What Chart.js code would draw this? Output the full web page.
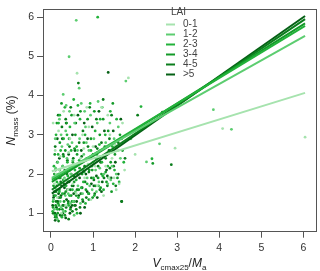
<!DOCTYPE html>
<html>
<head>
<meta charset="utf-8">
<script src="https://cdn.jsdelivr.net/npm/chart.js@4/dist/chart.umd.min.js"></script>
<style>
  html, body { margin: 0; padding: 0; background: #fff; }
  #wrap { width: 320px; height: 271px; }
</style>
</head>
<body>
<div id="wrap"><canvas id="lai-chart" width="320" height="271"></canvas></div>
<script>
const laiClasses = ["0-1", "1-2", "2-3", "3-4", "4-5", ">5"];
const laiColors = ["#a6e3ae", "#5ccd70", "#22b23a", "#139a28", "#0b7d1c", "#056015"];

// regression lines: N_mass at Vcmax25/Ma = 0 and at the right end
const lineX = [0.02, 6.04];
const lineStart = [2.07, 1.9, 1.86, 1.8, 1.6, 1.5];
const lineEnd = [4.07, 5.52, 5.78, 5.84, 5.95, 6.03];

// observed points per LAI class, [Vcmax25/Ma, Nmass]
const pts01 = [[0.05,3.3],[0.1,2.6],[0.15,1.4],[0.2,2.1],[0.3,3.6],[0.35,1.2],[0.45,2.9],[0.55,3.5],[0.62,4.57],[0.7,2.4],[0.8,1.9],[0.9,3.2],[1.0,2.7],[1.1,1.7],[1.2,3.7],[1.3,2.2],[1.4,3.0],[1.5,1.9],[1.6,2.6],[1.7,3.3],[1.84,4.45],[2.0,2.5],[2.95,2.66],[4.08,3.16],[6.04,2.94],[0.25,1.0],[0.4,1.6],[0.12,2.0],[0.6,1.5],[0.75,3.0],[1.05,2.2],[1.45,2.4],[1.55,1.6],[1.25,1.45],[0.85,3.7],[0.5,2.2],[0.18,3.1],[0.95,1.35],[1.35,3.5],[1.75,2.1],
  [0.08,1.75],[0.22,2.45],[0.33,1.85],[0.42,2.55],[0.52,1.75],[0.66,2.05],[0.78,2.65],[0.88,2.25],[1.15,2.45],[1.38,1.9],[1.62,1.75],[1.52,2.75]];
const pts12 = [[0.08,1.1],[0.1,2.9],[0.13,1.6],[0.16,2.3],[0.2,3.4],[0.22,1.3],[0.26,2.7],[0.29,4.03],[0.32,1.9],[0.35,3.1],[0.38,2.4],[0.41,1.5],[0.44,3.6],[0.47,2.0],[0.5,2.8],[0.53,1.3],[0.56,3.3],[0.6,5.92],[0.6,2.2],[0.64,1.7],[0.67,4.19],[0.68,2.9],[0.72,3.8],[0.75,1.5],[0.78,2.5],[0.82,3.2],[0.86,1.9],[0.9,2.6],[0.94,3.5],[0.98,1.6],[1.02,2.9],[1.06,2.1],[1.1,3.3],[1.14,1.8],[1.18,2.6],[1.22,3.7],[1.26,2.0],[1.3,2.8],[1.35,1.75],[1.4,3.3],[1.45,2.2],[1.5,2.9],[1.55,2.0],[1.6,3.2],[1.65,2.4],[1.78,4.37],[1.9,2.9],[2.27,2.31],[2.58,2.77],[3.86,3.64],[4.29,3.14],[0.43,4.99],[0.15,0.85],[0.3,1.05],[0.55,0.95],
  [0.06,1.35],[0.11,2.15],[0.18,1.75],[0.24,1.15],[0.28,2.2],[0.34,1.45],[0.4,2.75],[0.46,1.25],[0.52,2.35],[0.58,1.55],[0.63,2.6],[0.7,1.25],[0.76,2.1],[0.84,2.8],[0.92,1.7],[1.0,2.3],[1.08,1.55],[1.16,2.15],[1.28,2.45],[1.42,1.85],[0.36,3.75],[0.8,3.6],[1.12,3.85],[0.24,3.0]];
const pts23 = [[0.05,1.3],[0.07,2.2],[0.1,0.95],[0.12,3.0],[0.14,1.8],[0.17,2.5],[0.19,1.2],[0.21,3.5],[0.24,2.0],[0.27,1.5],[0.3,2.9],[0.33,3.7],[0.36,1.7],[0.39,2.3],[0.42,1.2],[0.45,3.2],[0.48,2.6],[0.51,1.6],[0.54,3.9],[0.57,2.1],[0.61,2.7],[0.65,1.4],[0.69,3.4],[0.73,2.3],[0.77,1.8],[0.81,3.0],[0.85,2.4],[0.89,1.5],[0.93,3.8],[0.97,2.2],[1.01,1.9],[1.05,3.1],[1.09,2.5],[1.11,6.0],[1.13,1.7],[1.17,3.4],[1.21,2.3],[1.25,1.6],[1.29,3.0],[1.33,2.5],[1.37,1.9],[1.41,3.6],[1.46,2.7],[1.51,2.1],[1.56,3.4],[1.62,1.8],[1.68,2.9],[1.73,2.3],[2.14,3.72],[2.4,2.39],[0.11,1.45],[0.26,0.9],[0.38,3.0],[0.62,1.0],[0.82,1.25],
  [0.04,1.05],[0.09,1.65],[0.15,1.1],[0.2,1.55],[0.23,2.6],[0.29,1.85],[0.34,1.05],[0.4,1.95],[0.44,1.45],[0.5,2.15],[0.55,1.3],[0.6,1.85],[0.67,2.35],[0.72,1.65],[0.79,2.05],[0.86,1.75],[0.95,2.6],[1.03,1.45],[1.15,2.75],[1.23,1.95],[1.35,2.2],[1.48,1.75],[0.18,3.3],[0.64,3.75]];
const pts34 = [[0.06,1.7],[0.09,2.5],[0.11,1.2],[0.14,3.3],[0.16,1.0],[0.18,2.0],[0.21,2.8],[0.23,1.4],[0.25,3.8],[0.28,2.2],[0.31,1.3],[0.34,2.6],[0.37,3.3],[0.4,1.8],[0.43,2.9],[0.46,1.1],[0.49,3.5],[0.52,2.3],[0.55,1.8],[0.58,3.0],[0.62,2.5],[0.66,1.6],[0.7,3.6],[0.74,2.0],[0.78,2.8],[0.83,1.6],[0.87,3.4],[0.91,2.1],[0.95,2.9],[0.99,1.4],[1.03,3.6],[1.07,2.4],[1.12,1.9],[1.16,3.0],[1.2,2.0],[1.24,3.4],[1.28,2.7],[1.32,1.8],[1.36,3.1],[1.42,2.3],[1.47,3.8],[1.52,2.5],[1.58,1.9],[1.64,3.0],[1.7,2.6],[2.42,2.27],[0.13,0.9],[0.2,1.6],[0.33,0.95],[0.48,1.45],
  [0.05,1.15],[0.08,2.0],[0.12,1.55],[0.17,1.25],[0.22,1.9],[0.27,1.1],[0.3,2.45],[0.35,1.55],[0.41,1.25],[0.45,2.1],[0.5,1.3],[0.56,2.65],[0.6,1.45],[0.68,2.15],[0.75,1.35],[0.82,2.35],[0.9,1.35],[0.98,2.1],[1.06,1.7],[1.18,1.65],[1.3,2.05],[1.44,1.55]];
const pts45 = [[0.05,1.0],[0.08,1.9],[0.1,2.7],[0.12,1.3],[0.15,2.3],[0.17,3.5],[0.2,1.1],[0.23,1.8],[0.26,3.2],[0.29,2.5],[0.32,1.5],[0.35,3.4],[0.38,2.0],[0.41,1.3],[0.44,2.7],[0.47,3.7],[0.5,1.7],[0.53,2.4],[0.56,1.2],[0.59,3.3],[0.63,2.0],[0.65,4.32],[0.67,2.8],[0.71,1.5],[0.76,3.1],[0.8,2.2],[0.84,1.4],[0.88,2.7],[0.92,3.7],[0.96,1.9],[1.0,2.5],[1.04,1.5],[1.08,3.4],[1.12,2.2],[1.16,1.6],[1.2,2.8],[1.24,3.9],[1.3,2.4],[1.34,1.7],[1.39,2.9],[1.44,3.5],[1.49,2.2],[1.54,1.7],[1.6,2.8],[1.68,1.3],[1.76,2.4],[2.06,3.5],[2.86,2.24],[0.18,0.8],[0.42,0.85],[0.6,1.1],[0.28,1.2],
  [0.07,1.45],[0.1,0.9],[0.14,1.7],[0.19,1.4],[0.21,2.1],[0.25,0.95],[0.31,1.75],[0.36,1.15],[0.39,2.35],[0.46,1.6],[0.51,1.05],[0.55,1.95],[0.62,1.6],[0.69,1.15],[0.73,2.45],[0.81,1.8],[0.9,2.05],[1.02,1.85],[1.1,2.65],[1.26,1.9],[1.4,2.15]];
const pts5p = [[0.06,1.4],[0.09,1.0],[0.11,2.1],[0.13,1.15],[0.15,2.9],[0.18,1.5],[0.2,2.4],[0.22,0.95],[0.25,1.7],[0.27,2.9],[0.3,1.2],[0.33,2.1],[0.36,3.3],[0.39,1.6],[0.42,2.5],[0.45,1.0],[0.48,2.0],[0.51,3.0],[0.54,1.5],[0.57,2.6],[0.61,1.3],[0.64,3.5],[0.68,1.9],[0.72,2.6],[0.76,1.3],[0.79,3.3],[0.83,2.0],[0.87,2.9],[0.9,1.5],[0.94,2.4],[0.98,3.2],[1.02,1.7],[1.06,2.7],[1.1,1.4],[1.14,3.6],[1.18,2.3],[1.22,1.8],[1.27,3.1],[1.32,2.1],[1.36,4.59],[1.38,2.6],[1.43,1.9],[1.48,3.1],[1.53,2.3],[1.6,2.0],[1.66,3.4],[1.68,1.3],[2.65,3.58],[0.1,0.82],[0.35,0.88],[0.5,1.2],[0.7,1.0],
  [0.04,1.2],[0.08,1.55],[0.12,0.95],[0.16,1.3],[0.19,1.9],[0.24,1.45],[0.28,1.0],[0.32,1.65],[0.37,1.35],[0.43,1.8],[0.47,1.15],[0.53,1.7],[0.58,1.2],[0.63,2.25],[0.66,1.45],[0.74,1.65],[0.8,1.15],[0.86,1.55],[0.96,1.75],[1.08,1.95],[1.2,1.55],[1.34,1.95]];
const pointSets = [pts01, pts12, pts23, pts34, pts45, pts5p];

const FONT = "'Liberation Sans', Arial, sans-serif";

const datasets = [];
laiClasses.forEach((name, i) => {
  datasets.push({
    label: name,
    data: [{ x: lineX[0], y: lineStart[i] }, { x: lineX[1], y: lineEnd[i] }],
    showLine: true,
    borderColor: laiColors[i],
    borderWidth: 2,
    pointRadius: 0,
    order: 0,
  });
});
laiClasses.forEach((name, i) => {
  datasets.push({
    label: name + " obs",
    data: pointSets[i].map((p) => ({ x: p[0], y: p[1] })),
    backgroundColor: laiColors[i],
    borderWidth: 0,
    pointRadius: 1.4,
    order: 1,
  });
});

// box, axis titles and legend, R style
const decorations = {
  id: "decorations",
  afterDraw(chart) {
    const ctx = chart.ctx;
    const a = chart.chartArea;
    ctx.save();
    ctx.strokeStyle = "#555";
    ctx.lineWidth = 1;
    ctx.strokeRect(Math.round(a.left) + 0.5, Math.round(a.top) + 0.5,
      Math.round(a.right - a.left), Math.round(a.bottom - a.top));

    ctx.fillStyle = "#222";
    ctx.textBaseline = "alphabetic";
    // x title: V_cmax25 / M_a
    const xParts = [
      ["italic 12px " + FONT, "V", 0],
      ["8px " + FONT, "cmax25", 3],
      ["12px " + FONT, "/", 0],
      ["italic 12px " + FONT, "M", 0],
      ["8px " + FONT, "a", 3],
    ];
    let w = 0;
    xParts.forEach((p) => { ctx.font = p[0]; w += ctx.measureText(p[1]).width; });
    let x = (a.left + a.right) / 2 - w / 2;
    ctx.textAlign = "left";
    xParts.forEach((p) => {
      ctx.font = p[0];
      ctx.fillText(p[1], x, 267 + p[2]);
      x += ctx.measureText(p[1]).width;
    });

    // y title: N_mass (%)
    const yParts = [
      ["italic 12px " + FONT, "N", 0],
      ["8px " + FONT, "mass", 3],
      ["12px " + FONT, " (%)", 0],
    ];
    w = 0;
    yParts.forEach((p) => { ctx.font = p[0]; w += ctx.measureText(p[1]).width; });
    ctx.translate(15, (a.top + a.bottom) / 2);
    ctx.rotate(-Math.PI / 2);
    x = -w / 2;
    yParts.forEach((p) => {
      ctx.font = p[0];
      ctx.fillText(p[1], x, p[2]);
      x += ctx.measureText(p[1]).width;
    });
    ctx.setTransform(1, 0, 0, 1, 0, 0);

    // legend
    ctx.font = "10px " + FONT;
    ctx.fillStyle = "#444";
    ctx.textBaseline = "middle";
    ctx.fillText("LAI", 171, 12.5);
    laiClasses.forEach((name, i) => {
      const y = 24.5 + i * 10;
      ctx.strokeStyle = laiColors[i];
      ctx.lineWidth = 2;
      ctx.beginPath();
      ctx.moveTo(166, y);
      ctx.lineTo(175, y);
      ctx.stroke();
      ctx.fillText(name, 183, y);
    });
    ctx.restore();
  },
};

const tickFont = { family: FONT, size: 10.5 };

const laiConfig = {
  type: "scatter",
  data: { datasets: datasets },
  options: {
    responsive: false,
    animation: false,
    layout: { padding: { top: 3.5, right: 3.3, left: 0, bottom: 0 } },
    scales: {
      x: {
        type: "linear",
        min: -0.19,
        max: 6.3,
        border: { display: false },
        grid: { drawOnChartArea: false, drawTicks: true, tickLength: 6, color: "#555" },
        ticks: { stepSize: 1, includeBounds: false, color: "#333", font: tickFont, padding: 4, maxRotation: 0 },
        afterFit: function (scale) { scale.height = 39.3; },
      },
      y: {
        type: "linear",
        min: 0.53,
        max: 6.2,
        border: { display: false },
        grid: { drawOnChartArea: false, drawTicks: true, tickLength: 6, color: "#555" },
        ticks: { stepSize: 1, includeBounds: false, color: "#333", font: tickFont, padding: 3 },
        afterFit: function (scale) { scale.width = 43; },
      },
    },
    plugins: {
      legend: { display: false },
      tooltip: { enabled: false },
    },
  },
  plugins: [decorations],
};

const laiChart = new Chart(document.getElementById("lai-chart"), laiConfig);
</script>
</body>
</html>
